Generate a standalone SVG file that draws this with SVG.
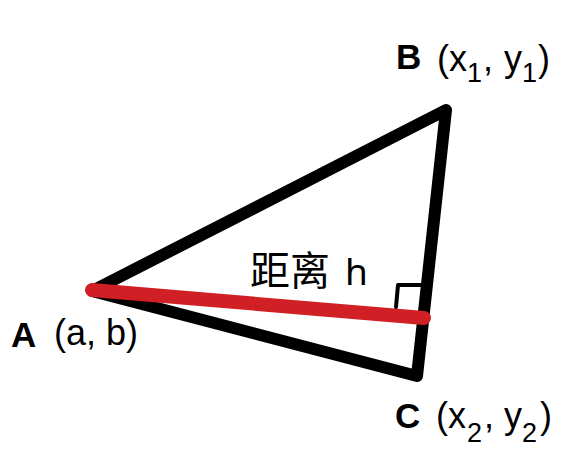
<svg xmlns="http://www.w3.org/2000/svg" width="574" height="470" viewBox="0 0 574 470">
<style>
.lbl{font-family:"Liberation Sans","Noto Sans CJK SC",Arial,sans-serif;fill:#000}
.bold{font-weight:bold;font-size:35px}
.co{font-size:36px}
.sub{font-size:27px}
</style>
<rect width="574" height="470" fill="#fff"/>
<g id="connectors">
<polygon id="triangle" points="92,291 446,110 417,376" fill="none" stroke="#000" stroke-width="12" stroke-linejoin="round"/>
<line id="height" x1="92" y1="290" x2="424" y2="318" stroke="#d01f25" stroke-width="14" stroke-linecap="round"/>
<polyline id="right-angle" points="396,307 398,285 428,285" fill="none" stroke="#000" stroke-width="4" stroke-linecap="round" stroke-linejoin="round"/>
</g>
<g id="node-B">
<text class="lbl bold" x="396" y="69">B</text>
<text class="lbl co" y="71"><tspan x="437">(x</tspan><tspan class="sub" x="467" dy="11">1</tspan><tspan x="483" dy="-11">,</tspan><tspan x="504">y</tspan><tspan class="sub" x="522" dy="11">1</tspan><tspan x="538" dy="-11">)</tspan></text>
</g>
<g id="node-A">
<text class="lbl bold" x="11" y="347" font-size="37">A</text>
<text class="lbl co" x="54" y="345" font-size="37">(a, b)</text>
</g>
<g id="node-C">
<text class="lbl bold" x="395" y="428">C</text>
<text class="lbl co" y="428"><tspan x="436">(x</tspan><tspan class="sub" x="467" dy="14">2</tspan><tspan x="484" dy="-14">,</tspan><tspan x="504">y</tspan><tspan class="sub" x="522" dy="14">2</tspan><tspan x="540" dy="-14">)</tspan></text>
</g>
<g id="label-h">
<text class="lbl" y="285"><tspan x="250" font-size="40" font-family="'Noto Sans CJK SC',sans-serif">距离</tspan><tspan x="345" font-size="37" font-family="'Noto Sans','Liberation Sans',sans-serif">h</tspan></text>
</g>
</svg>
